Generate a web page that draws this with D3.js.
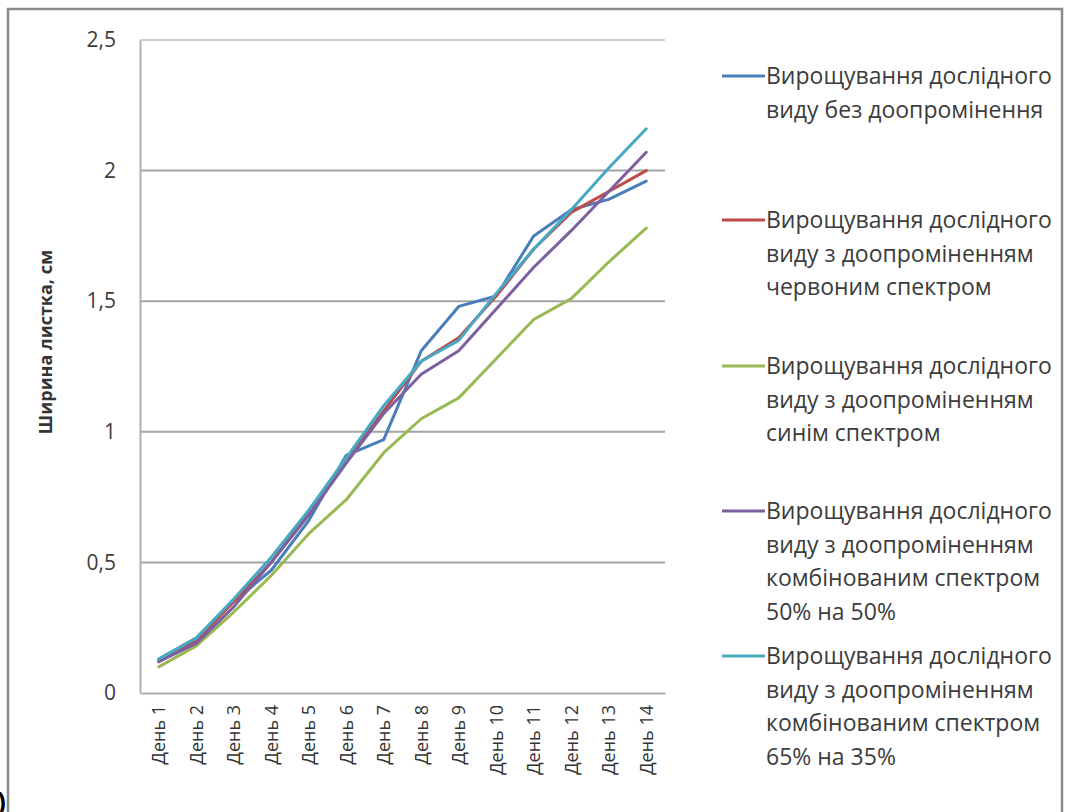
<!DOCTYPE html>
<html>
<head>
<meta charset="utf-8">
<script src="https://cdn.jsdelivr.net/npm/d3@7"></script>
<style>
  html, body { margin: 0; padding: 0; background: #fff; }
  svg { display: block; }
  text { font-family: "Open Sans", "DejaVu Sans", sans-serif; }
</style>
</head>
<body>
<svg id="chart" width="1068" height="812"></svg>
<script>
// Leaf width by day for five lighting regimes
const days = ["День 1", "День 2", "День 3", "День 4", "День 5", "День 6", "День 7",
              "День 8", "День 9", "День 10", "День 11", "День 12", "День 13", "День 14"];

const noLight   = [0.13, 0.21, 0.35, 0.47, 0.66, 0.91, 0.97, 1.31, 1.48, 1.52, 1.75, 1.85, 1.89, 1.96];
const redLight  = [0.12, 0.20, 0.35, 0.50, 0.69, 0.89, 1.08, 1.27, 1.36, 1.52, 1.70, 1.84, 1.92, 2.00];
const blueLight = [0.10, 0.18, 0.31, 0.45, 0.61, 0.74, 0.92, 1.05, 1.13, 1.28, 1.43, 1.51, 1.65, 1.78];
const mix5050   = [0.12, 0.19, 0.33, 0.50, 0.68, 0.88, 1.07, 1.22, 1.31, 1.47, 1.63, 1.77, 1.92, 2.07];
const mix6535   = [0.13, 0.21, 0.36, 0.52, 0.70, 0.90, 1.10, 1.27, 1.35, 1.53, 1.70, 1.85, 2.01, 2.16];

const yTicks = [0, 0.5, 1, 1.5, 2, 2.5];

const seriesNames = [
  ["Вирощування дослідного", "виду без доопромінення"],
  ["Вирощування дослідного", "виду з доопроміненням", "червоним спектром"],
  ["Вирощування дослідного", "виду з доопроміненням", "синім спектром"],
  ["Вирощування дослідного", "виду з доопроміненням", "комбінованим спектром", "50% на 50%"],
  ["Вирощування дослідного", "виду з доопроміненням", "комбінованим спектром", "65% на 35%"]
];
const seriesValues = [noLight, redLight, blueLight, mix5050, mix6535];
const seriesColors = ["#4a7ebb", "#be4b48", "#98b954", "#7d60a0", "#46aac5"];

const svg = d3.select("#chart");

// outer frame of the figure
svg.append("rect")
  .attr("x", 8).attr("y", 9).attr("width", 1054).attr("height", 830)
  .attr("fill", "none").attr("stroke", "#8a8a8a").attr("stroke-width", 2.5);

svg.append("text")
  .attr("x", -3).attr("y", 811)
  .attr("font-size", 26).attr("font-weight", "bold").attr("fill", "#000")
  .text(")");

const plot = { left: 140, right: 665, top: 40, bottom: 693 };

const x = d3.scaleBand().domain(days).range([plot.left, plot.right]);
const y = d3.scaleLinear().domain([0, 2.5]).range([plot.bottom, plot.top]);

// horizontal gridlines
svg.append("g")
  .selectAll("line")
  .data(yTicks.filter(d => d > 0))
  .join("line")
  .attr("x1", plot.left).attr("x2", plot.right)
  .attr("y1", d => y(d)).attr("y2", d => y(d))
  .attr("stroke", d => d === 2.5 ? "#cfcfcf" : "#a3a3a3")
  .attr("stroke-width", 2);

// y axis
const yAxis = svg.append("g")
  .attr("transform", `translate(${plot.left},0)`)
  .call(d3.axisLeft(y).tickValues(yTicks).tickSize(0).tickPadding(24)
    .tickFormat(d => String(d).replace(".", ",")));
yAxis.select(".domain").attr("stroke", "#b0b0b0").attr("stroke-width", 2);
yAxis.selectAll("text").attr("font-size", 21).attr("fill", "#3c3c3c");

// x axis
const xAxis = svg.append("g")
  .attr("transform", `translate(0,${plot.bottom})`)
  .call(d3.axisBottom(x).tickSize(0).tickPadding(0));
xAxis.select(".domain").attr("stroke", "#b0b0b0").attr("stroke-width", 2);
xAxis.selectAll("text")
  .attr("font-size", 18).attr("fill", "#333")
  .attr("text-anchor", "end")
  .attr("transform", "rotate(-90)")
  .attr("x", -12).attr("y", 0).attr("dy", "0.35em");

// y axis title
svg.append("text")
  .attr("transform", `translate(52,342) rotate(-90)`)
  .attr("text-anchor", "middle")
  .attr("font-size", 18).attr("font-weight", "bold").attr("fill", "#333")
  .text("Ширина листка, см");

// series lines
const line = d3.line()
  .x((d, i) => x(days[i]) + x.bandwidth() / 2)
  .y(d => y(d));

svg.append("g")
  .selectAll("path")
  .data(seriesValues)
  .join("path")
  .attr("d", d => line(d))
  .attr("fill", "none")
  .attr("stroke", (d, i) => seriesColors[i])
  .attr("stroke-width", 3)
  .attr("stroke-linejoin", "round")
  .attr("stroke-linecap", "round");

// legend
const legendTops = [76, 220, 366, 511, 656];
const lineGap = 33.5;
const legend = svg.append("g");
seriesNames.forEach((lines, i) => {
  const g = legend.append("g").attr("transform", `translate(0,${legendTops[i]})`);
  g.append("line")
    .attr("x1", 722).attr("x2", 765)
    .attr("y1", 0).attr("y2", 0)
    .attr("stroke", seriesColors[i]).attr("stroke-width", 3);
  lines.forEach((t, j) => {
    g.append("text")
      .attr("x", 766).attr("y", j * lineGap)
      .attr("dy", "0.35em")
      .attr("font-size", 23).attr("fill", "#3c3c3c")
      .text(t);
  });
});
</script>
</body>
</html>
